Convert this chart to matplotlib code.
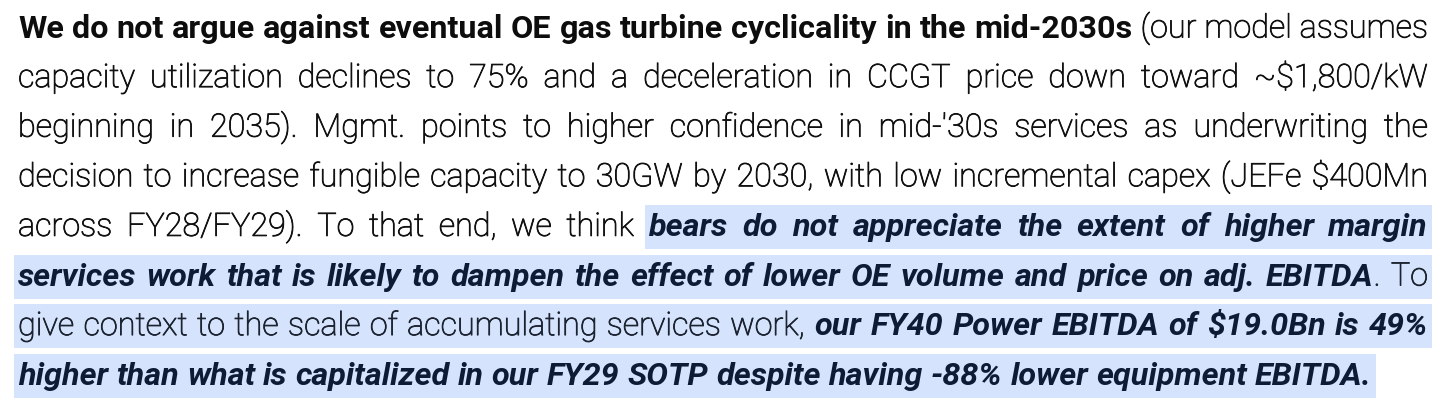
import matplotlib
matplotlib.use('Agg')
import matplotlib.pyplot as plt
import matplotlib.patheffects as pe
from matplotlib.patches import Rectangle

# paragraph, one entry per printed line: (text, style)
line1 = [("We do not argue against eventual OE gas turbine cyclicality in the mid-2030s", 'b'),
         (" (our model assumes", 'r')]
line2 = [("capacity utilization declines to 75% and a deceleration in CCGT price down toward ~$1,800/kW", 'r')]
line3 = [("beginning in 2035). Mgmt. points to higher confidence in mid-'30s services as underwriting the", 'r')]
line4 = [("decision to increase fungible capacity to 30GW by 2030, with low incremental capex (JEFe $400Mn", 'r')]
line5 = [("across FY28/FY29). To that end, we think ", 'r'),
         ("bears do not appreciate the extent of higher margin", 'bi')]
line6 = [("services work that is likely to dampen the effect of lower OE volume and price on adj. EBITDA", 'bi'),
         (". To", 'rh')]
line7 = [("give context to the scale of accumulating services work, ", 'rh'),
         ("our FY40 Power EBITDA of $19.0Bn is 49%", 'bi')]
line8 = [("higher than what is capitalized in our FY29 SOTP despite having -88% lower equipment EBITDA.", 'bi')]
lines = [line1, line2, line3, line4, line5, line6, line7, line8]

FONT = ['Roboto', 'DejaVu Sans']
FS = 23.3
styles = {
    'b': dict(weight='bold', style='normal', color='#0d0d0d', stroke=0),
    'r': dict(weight='light', style='normal', color='#111111', stroke=0.6),
    'bi': dict(weight='bold', style='italic', color='#0e1b34', stroke=0),
    'rh': dict(weight='light', style='normal', color='#1c2330', stroke=0.6),
}
highlighted = {'bi', 'rh'}
hl_color = '#d5e3fc'

W, H = 1456, 407
fig = plt.figure(figsize=(W / 100, H / 100), dpi=100)
fig.patch.set_facecolor('white')
renderer = fig.canvas.get_renderer()

left, right = 18, 1428
base0, pitch = 37.5, 49.6


def measure(s, st):
    t = fig.text(0, 0, s, fontsize=FS, family=FONT, weight=styles[st]['weight'],
                 style=styles[st]['style'])
    w = t.get_window_extent(renderer).width
    t.remove()
    return w


def words_of(line):
    # split into words; a word may be made of pieces with different styles
    words, cur = [], []
    for text, st in line:
        parts = text.split(' ')
        for i, p in enumerate(parts):
            if i > 0:
                if cur:
                    words.append(cur)
                cur = []
            if p:
                cur.append((p, st))
    if cur:
        words.append(cur)
    return words


for li, line in enumerate(lines):
    y = base0 + li * pitch
    words = words_of(line)
    widths = [[measure(p, st) for p, st in w] for w in words]
    total = sum(sum(w) for w in widths)
    if li < len(lines) - 1:
        gap = (right - left - total) / (len(words) - 1)
    else:
        gap = measure('a a', 'bi') - measure('aa', 'bi')
    x = left
    hl_start = hl_end = None
    placed = []
    for w, ws in zip(words, widths):
        for (p, st), pw in zip(w, ws):
            placed.append((x, p, st))
            if st in highlighted:
                if hl_start is None:
                    hl_start = x
                hl_end = x + pw
            x += pw
        x += gap
    if hl_start is not None:
        x0 = max(hl_start - 4, 12)
        x1 = min(hl_end + 4, 1432)
        fig.patches.append(Rectangle((x0 / W, 1 - (y + 13) / H), (x1 - x0) / W, 44 / H,
                                     transform=fig.transFigure, facecolor=hl_color,
                                     edgecolor='none', zorder=0))
    for x, p, st in placed:
        s = styles[st]
        t = fig.text(x / W, 1 - y / H, p, fontsize=FS, family=FONT, weight=s['weight'],
                     style=s['style'], color=s['color'], va='baseline', ha='left', zorder=2)
        if s['stroke']:
            t.set_path_effects([pe.withStroke(linewidth=s['stroke'], foreground=s['color'])])

fig.savefig('out.png', dpi=100)
